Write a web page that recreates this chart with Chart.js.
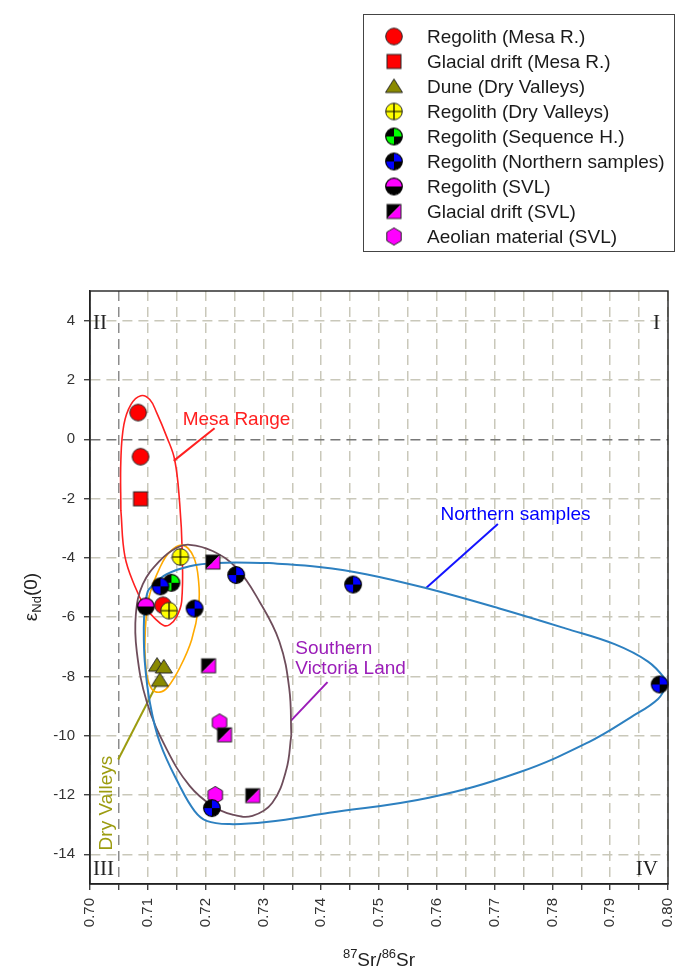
<!DOCTYPE html>
<html><head><meta charset="utf-8">
<script src="https://cdn.jsdelivr.net/npm/chart.js@4.4.1/dist/chart.umd.min.js"></script>
<style>html,body{margin:0;padding:0;background:#fff;}#wrap{width:677px;height:978px;position:relative;}</style>
</head><body><div id="wrap"><canvas id="c" width="677" height="978"></canvas></div>
<script>
// ---------------- data ----------------
const seriesNames = ['Regolith (Mesa R.)','Glacial drift (Mesa R.)','Dune (Dry Valleys)','Regolith (Dry Valleys)',
  'Regolith (Sequence H.)','Regolith (Northern samples)','Regolith (SVL)','Glacial drift (SVL)','Aeolian material (SVL)'];

const mesaRegolithX = [0.70833, 0.70874, 0.71264];
const mesaRegolithY = [0.90, -0.59, -5.60];
const mesaDriftX = [0.70874];
const mesaDriftY = [-2.01];
const duneDVX = [0.71160, 0.71276, 0.71207];
const duneDVY = [-7.62, -7.68, -8.13];
const regolithDVX = [0.71564, 0.71367];
const regolithDVY = [-3.97, -5.78];
const seqHX = [0.71408];
const seqHY = [-4.84];
const northernX = [0.72529, 0.71219, 0.71810, 0.74552, 0.79856, 0.72109];
const northernY = [-4.58, -4.96, -5.71, -4.90, -8.27, -12.44];
const svlRegolithX = [0.70966];
const svlRegolithY = [-5.64];
const svlDriftX = [0.72126, 0.72052, 0.72328, 0.72816];
const svlDriftY = [-4.14, -7.64, -9.97, -12.02];
const aeolianX = [0.72241, 0.72167];
const aeolianY = [-9.55, -12.00];

// hand-drawn group outlines (data coordinates)
const mesaOutlineX = [0.70534,0.70534,0.70586,0.70707,0.70879,0.71034,0.71155,0.71328,0.71466,0.71552,0.71595,0.71586,0.71500,0.71379,0.71276,0.71121,0.70948,0.70776,0.70603,0.70534];
const mesaOutlineY = [-2.40,-0.70,0.49,1.17,1.47,1.34,0.89,0.08,-0.70,-2.17,-3.77,-5.47,-5.98,-6.25,-6.28,-6.04,-5.64,-4.96,-3.94,-2.40];
const dvOutlineX = [0.70948,0.70966,0.71034,0.71207,0.71379,0.71603,0.71793,0.71879,0.71879,0.71759,0.71552,0.71345,0.71207,0.71069,0.70983,0.70948];
const dvOutlineY = [-7.06,-6.15,-5.23,-4.34,-3.80,-3.57,-3.97,-4.79,-5.64,-6.76,-7.71,-8.36,-8.53,-8.42,-7.95,-7.06];
const svlOutlineX = [0.73483,0.73397,0.73155,0.72810,0.72466,0.72121,0.71724,0.71328,0.70983,0.70810,0.70793,0.70914,0.71207,0.71500,0.71724,0.72121,0.72534,0.72931,0.73276,0.73448,0.73483];
const svlOutlineY = [-9.98,-11.14,-12.26,-12.70,-12.66,-12.37,-11.69,-10.46,-8.86,-7.17,-5.91,-4.89,-4.10,-3.66,-3.56,-3.77,-4.34,-5.47,-6.82,-8.42,-9.98];
const northOutlineX = [0.73103,0.73966,0.74776,0.75810,0.77069,0.78224,0.79086,0.79655,0.79948,0.79966,0.79828,0.79362,0.78621,0.77414,0.75862,0.74138,0.73052,0.72414,0.72017,0.71810,0.71552,0.71207,0.71034,0.70948,0.70931,0.70948,0.71000,0.71069,0.71328,0.71724,0.72190,0.73103];
const northOutlineY = [-4.17,-4.31,-4.55,-5.02,-5.70,-6.38,-6.92,-7.50,-8.08,-8.28,-8.76,-9.37,-10.22,-11.24,-12.09,-12.60,-12.91,-12.98,-12.87,-12.54,-11.69,-10.22,-8.86,-7.50,-6.37,-5.69,-5.13,-4.96,-4.55,-4.28,-4.17,-4.17];

// annotation leader lines
const mesaLeaderX = [0.72155, 0.71448];  const mesaLeaderY = [0.37, -0.73];
const dvLeaderX = [0.70488, 0.71207];    const dvLeaderY = [-10.80, -8.07];
const svlLeaderX = [0.74109, 0.73478];   const svlLeaderY = [-8.19, -9.49];
const northLeaderX = [0.77057, 0.75805]; const northLeaderY = [-2.86, -5.03];

// annotation texts and anchors (data coords)
const annoTexts = ['Mesa Range', 'Northern samples', 'Southern', 'Victoria Land', 'Dry Valleys'];
const annoX = [0.71603, 0.76064, 0.73552, 0.73552, 0.70284];
const annoY = [0.49, -2.74, -7.23, -7.91, -12.27];

// ticks
const xTickValues = [0.700,0.705,0.710,0.715,0.720,0.725,0.730,0.735,0.740,0.745,0.750,0.755,0.760,0.765,0.770,0.775,0.780,0.785,0.790,0.795,0.800];
const xTickLabels = ['0.70','','0.71','','0.72','','0.73','','0.74','','0.75','','0.76','','0.77','','0.78','','0.79','','0.80'];
const yTickValues = [-14,-12,-10,-8,-6,-4,-2,0,2,4];
const quadrantLabels = ['I','II','III','IV'];

// ---------------- markers ----------------
const OUT = '#262626';
function mk(draw){ const c=document.createElement('canvas'); c.width=22; c.height=22; const g=c.getContext('2d'); g.translate(11,11); draw(g); return c; }
function circ(g,r){ g.beginPath(); g.arc(0,0,r,0,Math.PI*2); }
function sector(g,a0,a1,col,r){ g.beginPath(); g.moveTo(0,0); g.arc(0,0,r,a0,a1); g.closePath(); g.fillStyle=col; g.fill(); }
const P = Math.PI;
function quad(col){ return mk(g=>{ const r=8.3;
  sector(g,-P/2,0,col,r); sector(g,0,P/2,'#000',r); sector(g,P/2,P,col,r); sector(g,P,1.5*P,'#000',r);
  circ(g,r); g.lineWidth=1.2; g.strokeStyle='#000'; g.stroke(); }); }
const markers = [
  mk(g=>{ circ(g,8.3); g.fillStyle='#ff0000'; g.fill(); g.lineWidth=1; g.strokeStyle=OUT; g.stroke(); }),
  mk(g=>{ g.fillStyle='#ff0000'; g.fillRect(-7,-7,14,14); g.lineWidth=1; g.strokeStyle=OUT; g.strokeRect(-7,-7,14,14); }),
  mk(g=>{ g.beginPath(); g.moveTo(0,-7.5); g.lineTo(8.5,6); g.lineTo(-8.5,6); g.closePath(); g.fillStyle='#8a8a00'; g.fill(); g.lineWidth=1; g.strokeStyle=OUT; g.stroke(); }),
  mk(g=>{ circ(g,8.3); g.fillStyle='#ffff00'; g.fill(); g.beginPath(); g.moveTo(-8,0); g.lineTo(8,0); g.moveTo(0,-8); g.lineTo(0,8); g.lineWidth=1.2; g.strokeStyle='#000'; g.stroke(); circ(g,8.3); g.lineWidth=1; g.strokeStyle=OUT; g.stroke(); }),
  quad('#00ff00'),
  quad('#0000ff'),
  mk(g=>{ const r=8.3; sector(g,P,2*P,'#ff00ff',r); sector(g,0,P,'#000',r); circ(g,r); g.lineWidth=1.2; g.strokeStyle='#000'; g.stroke(); }),
  mk(g=>{ g.beginPath(); g.moveTo(-7,-7); g.lineTo(7,-7); g.lineTo(-7,7); g.closePath(); g.fillStyle='#000'; g.fill();
          g.beginPath(); g.moveTo(7,-7); g.lineTo(7,7); g.lineTo(-7,7); g.closePath(); g.fillStyle='#ff00ff'; g.fill();
          g.lineWidth=1; g.strokeStyle=OUT; g.strokeRect(-7,-7,14,14); }),
  mk(g=>{ g.beginPath(); for(let k=0;k<6;k++){ const a=-P/2+k*P/3; const px=8.3*Math.cos(a), py=8.6*Math.sin(a); k?g.lineTo(px,py):g.moveTo(px,py);} g.closePath(); g.fillStyle='#ff00ff'; g.fill(); g.lineWidth=1; g.strokeStyle=OUT; g.stroke(); })
];

function pts(xs, ys){ return xs.map((x,i)=>({x:x, y:ys[i]})); }
const pointSets = [
  [mesaRegolithX, mesaRegolithY, 2],
  [mesaDriftX, mesaDriftY, 9],
  [duneDVX, duneDVY, 8],
  [regolithDVX, regolithDVY, 1],
  [seqHX, seqHY, 4],
  [northernX, northernY, 3],
  [svlRegolithX, svlRegolithY, 5],
  [svlDriftX, svlDriftY, 6],
  [aeolianX, aeolianY, 7]
];
const datasets = pointSets.map((s,i)=>({
  label: seriesNames[i], data: pts(s[0], s[1]), pointStyle: markers[i], pointRadius: 8,
  showLine: false, clip: false, order: s[2]
}));
function lineDS(label, xs, ys, color, w, tension){
  return { label, data: pts(xs, ys), showLine: true, borderColor: color, borderWidth: w, pointRadius: 0,
           tension: tension, fill: false, order: 20, clip: false };
}
datasets.push(lineDS('Northern outline', northOutlineX, northOutlineY, '#2d80c0', 2, 0.4));
datasets.push(lineDS('SVL outline', svlOutlineX, svlOutlineY, '#6e4d5b', 1.8, 0.4));
datasets.push(lineDS('Dry Valleys outline', dvOutlineX, dvOutlineY, '#ffaa00', 1.6, 0.4));
datasets.push(lineDS('Mesa outline', mesaOutlineX, mesaOutlineY, '#ff2020', 1.6, 0.4));
datasets.push(lineDS('Mesa leader', mesaLeaderX, mesaLeaderY, '#ff2020', 2, 0));
datasets.push(lineDS('DV leader', dvLeaderX, dvLeaderY, '#9c9c10', 2, 0));
datasets.push(lineDS('SVL leader', svlLeaderX, svlLeaderY, '#9b1db8', 2, 0));
datasets.push(lineDS('Northern leader', northLeaderX, northLeaderY, '#1414ff', 2, 0));

const SANS = '"Liberation Sans", Arial, Helvetica, sans-serif';
const SERIF = '"Liberation Serif", "Times New Roman", serif';
const annoColors = ['#ff2020', '#0000ff', '#9b1db8', '#9b1db8', '#9c9c10'];

const deco = {
  id: 'deco',
  afterDraw(chart){
    const ctx = chart.ctx, a = chart.chartArea, xs = chart.scales.x, ys = chart.scales.y;
    ctx.save();
    // frame
    ctx.strokeStyle = '#222'; ctx.lineWidth = 1.4; ctx.setLineDash([]);
    ctx.strokeRect(a.left, a.top, a.right - a.left, a.bottom - a.top);
    // quadrant numerals
    ctx.fillStyle = '#222'; ctx.font = '21px ' + SERIF; ctx.textBaseline = 'alphabetic';
    ctx.textAlign = 'right'; ctx.fillText(quadrantLabels[0], a.right - 8, a.top + 38);
    ctx.textAlign = 'left';  ctx.fillText(quadrantLabels[1], a.left + 3, a.top + 38);
    ctx.textAlign = 'left';  ctx.fillText(quadrantLabels[2], a.left + 3, a.bottom - 9);
    ctx.textAlign = 'right'; ctx.fillText(quadrantLabels[3], a.right - 10, a.bottom - 9);
    // annotation texts
    ctx.font = '19px ' + SANS;
    for (let i = 0; i < 4; i++){
      ctx.fillStyle = annoColors[i]; ctx.textAlign = 'left'; ctx.textBaseline = 'alphabetic';
      ctx.fillText(annoTexts[i], xs.getPixelForValue(annoX[i]), ys.getPixelForValue(annoY[i]));
    }
    ctx.save();
    ctx.translate(xs.getPixelForValue(annoX[4]), ys.getPixelForValue(annoY[4]));
    ctx.rotate(-Math.PI/2); ctx.fillStyle = annoColors[4]; ctx.textAlign = 'center'; ctx.textBaseline = 'middle';
    ctx.fillText(annoTexts[4], 0, 0);
    ctx.restore();
    // y axis title  eps_Nd(0)
    ctx.save();
    ctx.translate(30, 597); ctx.rotate(-Math.PI/2); ctx.fillStyle = '#222'; ctx.textBaseline = 'alphabetic'; ctx.textAlign = 'left';
    const big = '19px ' + SANS, small = '13px ' + SANS;
    ctx.font = big; const w1 = ctx.measureText('ε').width, w3 = ctx.measureText('(0)').width;
    ctx.font = small; const w2 = ctx.measureText('Nd').width;
    let sx = -(w1 + w2 + w3) / 2;
    ctx.font = big; ctx.fillText('ε', sx, 7); sx += w1;
    ctx.font = small; ctx.fillText('Nd', sx, 11); sx += w2;
    ctx.font = big; ctx.fillText('(0)', sx, 7);
    ctx.restore();
    // x axis title 87Sr/86Sr
    ctx.save();
    ctx.fillStyle = '#222'; ctx.textBaseline = 'alphabetic'; ctx.textAlign = 'left';
    const parts = [['87', small, -8], ['Sr/', big, 0], ['86', small, -8], ['Sr', big, 0]];
    let tw = 0; parts.forEach(p => { ctx.font = p[1]; p.push(ctx.measureText(p[0]).width); tw += p[3]; });
    let px = (a.left + a.right) / 2 - tw / 2;
    parts.forEach(p => { ctx.font = p[1]; ctx.fillText(p[0], px, 966 + p[2]); px += p[3]; });
    ctx.restore();
    // legend box
    ctx.strokeStyle = '#444'; ctx.lineWidth = 1;
    ctx.strokeRect(363.5, 14.5, 311, 237);
    ctx.font = '19px ' + SANS; ctx.fillStyle = '#1a1a1a'; ctx.textAlign = 'left'; ctx.textBaseline = 'alphabetic';
    seriesNames.forEach((n, i) => {
      const cy = 36.5 + i * 25;
      ctx.drawImage(markers[i], 394 - 11, cy - 11);
      ctx.fillText(n, 427, cy + 6.8);
    });
    ctx.restore();
  }
};

const gridGrey = '#c9c8ba';
new Chart(document.getElementById('c'), {
  type: 'scatter',
  data: { datasets },
  plugins: [deco],
  options: {
    responsive: false, animation: false, events: [],
    layout: { padding: { top: 291, right: 7, left: 0, bottom: 0 } },
    plugins: { legend: { display: false }, tooltip: { enabled: false } },
    scales: {
      x: {
        type: 'linear', min: 0.70, max: 0.80,
        afterBuildTicks: s => { s.ticks = xTickValues.map(v => ({ value: v })); },
        afterFit: s => { s.height = 94; s.paddingLeft = 0; s.paddingRight = 0; },
        ticks: { autoSkip: false, minRotation: 90, maxRotation: 90, padding: 8, color: '#333',
                 font: { family: SANS, size: 15 }, callback: (v, i) => xTickLabels[i] },
        grid: { color: c => (c.tick && Math.abs(c.tick.value - 0.705) < 1e-6) ? '#8c8c8c' : gridGrey,
                lineWidth: 1.5, tickLength: 6, tickColor: '#222', tickWidth: 1.2, tickBorderDash: [] },
        border: { color: '#222', width: 1.4, dash: [10, 6] }
      },
      y: {
        type: 'linear', min: -15, max: 5,
        afterBuildTicks: s => { s.ticks = yTickValues.map(v => ({ value: v })); },
        afterFit: s => { s.width = 90; s.paddingTop = 0; s.paddingBottom = 0; },
        ticks: { padding: 9, color: '#333', font: { family: SANS, size: 15 }, callback: v => String(v) },
        grid: { color: c => (c.tick && Math.abs(c.tick.value) < 1e-9) ? '#777' : gridGrey,
                lineWidth: 1.5, tickLength: 6, tickColor: '#222', tickWidth: 1.2, tickBorderDash: [] },
        border: { color: '#222', width: 1.4, dash: [10, 6] }
      }
    }
  }
});
</script></body></html>
